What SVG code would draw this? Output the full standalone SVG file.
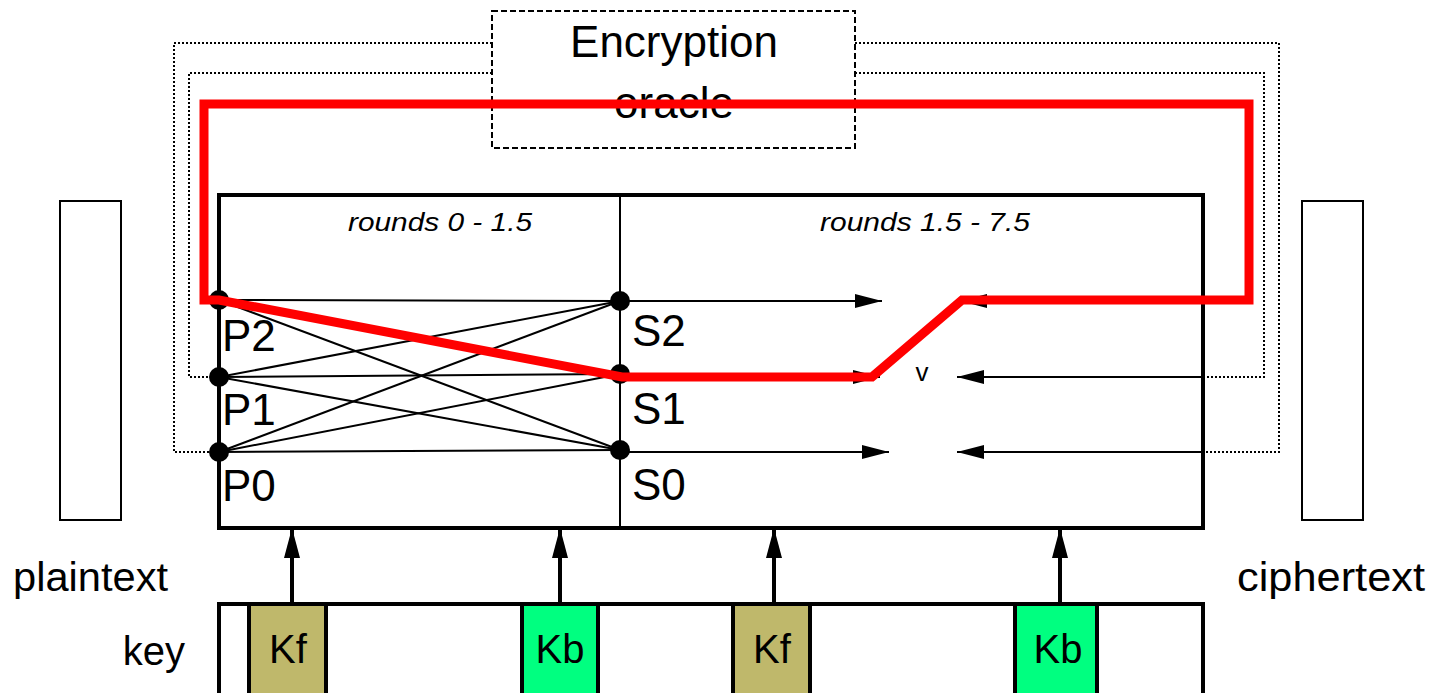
<svg xmlns="http://www.w3.org/2000/svg" width="1433" height="693" viewBox="0 0 1433 693">
<style>
text{font-family:"Liberation Sans",Arial,sans-serif;fill:#000}
.big{font-size:44px}
.lbl{font-size:40px}
.it{font-size:25px;font-style:italic}
.dot{fill:none;stroke:#000;stroke-width:2;stroke-dasharray:2 2}
.thin{fill:none;stroke:#000;stroke-width:2}
.mesh{stroke:#000;stroke-width:2}
.harr{stroke:#000;stroke-width:2;marker-end:url(#ah)}
.karr{stroke:#000;stroke-width:4;marker-end:url(#ak)}
.node{fill:#000}
.kf{fill:#BFB86B;stroke:#000;stroke-width:4}
.kb{fill:#00FF80;stroke:#000;stroke-width:4}
</style>
<defs>
<marker id="ah" markerUnits="userSpaceOnUse" markerWidth="28" markerHeight="14" refX="27" refY="7" orient="auto"><path d="M0,0 L27,7 L0,14 Z" fill="#000"/></marker>
<marker id="ak" markerUnits="userSpaceOnUse" markerWidth="30" markerHeight="18" refX="30" refY="9" orient="auto"><path d="M0,1 L30,9 L0,17 Z" fill="#000"/></marker>
</defs>
<rect width="1433" height="693" fill="#fff"/>
<g id="feedback-loops">
<path class="dot" d="M492,43 H174 V452 H219"/>
<path class="dot" d="M492,73 H189 V377 H219"/>
<path class="dot" d="M855,43 H1279 V452 H1203"/>
<path class="dot" d="M855,73 H1264 V377 H1203"/>
</g>
<g id="oracle">
<rect x="492" y="11" width="363" height="137" fill="#fff" stroke="#000" stroke-width="2" stroke-dasharray="6 3"/>
<text class="big" x="674" y="57" text-anchor="middle">Encryption</text>
<text class="big" x="674" y="118" text-anchor="middle">oracle</text>
</g>
<g id="plaintext">
<rect class="thin" x="60" y="201" width="61" height="319"/>
<text class="lbl" x="13" y="591" textLength="155" lengthAdjust="spacingAndGlyphs">plaintext</text>
</g>
<g id="ciphertext">
<rect class="thin" x="1302" y="201" width="61" height="319"/>
<text class="lbl" x="1237" y="591" textLength="188" lengthAdjust="spacingAndGlyphs">ciphertext</text>
</g>
<g id="cipher">
<rect x="219" y="195" width="984" height="333" fill="#fff" stroke="#000" stroke-width="4"/>
<line class="thin" x1="620" y1="195" x2="620" y2="528"/>
<text class="it" x="348" y="231" textLength="184" lengthAdjust="spacingAndGlyphs">rounds 0 - 1.5</text>
<text class="it" x="820" y="231" textLength="210" lengthAdjust="spacingAndGlyphs">rounds 1.5 - 7.5</text>
<text x="922" y="381" font-size="26" text-anchor="middle">v</text>
</g>
<g id="connectors">
<line class="mesh" x1="219" y1="300" x2="620" y2="301"/>
<line class="mesh" x1="219" y1="300" x2="620" y2="374"/>
<line class="mesh" x1="219" y1="300" x2="620" y2="450"/>
<line class="mesh" x1="219" y1="377" x2="620" y2="301"/>
<line class="mesh" x1="219" y1="377" x2="620" y2="374"/>
<line class="mesh" x1="219" y1="377" x2="620" y2="450"/>
<line class="mesh" x1="219" y1="452" x2="620" y2="301"/>
<line class="mesh" x1="219" y1="452" x2="620" y2="374"/>
<line class="mesh" x1="219" y1="452" x2="620" y2="450"/>
<line class="harr" x1="620" y1="301" x2="882" y2="301"/>
<line class="harr" x1="620" y1="377" x2="880" y2="377"/>
<line class="harr" x1="620" y1="452" x2="889" y2="452"/>
<line class="harr" x1="1203" y1="301" x2="960" y2="301"/>
<line class="harr" x1="1203" y1="377" x2="957" y2="377"/>
<line class="harr" x1="1203" y1="452" x2="957" y2="452"/>
<line class="karr" x1="292" y1="604" x2="292" y2="528"/>
<line class="karr" x1="560" y1="604" x2="560" y2="528"/>
<line class="karr" x1="774" y1="604" x2="774" y2="528"/>
<line class="karr" x1="1060" y1="604" x2="1060" y2="528"/>
</g>
<g id="P2"><circle class="node" cx="219" cy="300" r="10"/><text class="big" x="222" y="351">P2</text></g>
<g id="P1"><circle class="node" cx="219" cy="377" r="10"/><text class="big" x="222" y="425">P1</text></g>
<g id="P0"><circle class="node" cx="219" cy="452" r="10"/><text class="big" x="222" y="501">P0</text></g>
<g id="S2"><circle class="node" cx="620" cy="301" r="10"/><text class="big" x="632" y="346">S2</text></g>
<g id="S1"><circle class="node" cx="620" cy="374" r="10"/><text class="big" x="632" y="424">S1</text></g>
<g id="S0"><circle class="node" cx="620" cy="450" r="10"/><text class="big" x="632" y="500">S0</text></g>
<g id="attack-path">
<path d="M204,300 L219,300 L622,377 L872,377 L962,300 L1249,300 L1249,104 L204,104 Z" fill="none" stroke="#f00" stroke-width="9"/>
</g>
<g id="key">
<path d="M219,700 V604 H1203 V700" fill="none" stroke="#000" stroke-width="4"/>
<text class="lbl" x="185" y="665" text-anchor="end">key</text>
</g>
<g id="Kf1"><rect class="kf" x="249" y="604" width="77" height="100"/><text class="lbl" x="288" y="663" text-anchor="middle">Kf</text></g>
<g id="Kb1"><rect class="kb" x="522" y="604" width="76" height="100"/><text class="lbl" x="560" y="663" text-anchor="middle">Kb</text></g>
<g id="Kf2"><rect class="kf" x="733" y="604" width="77" height="100"/><text class="lbl" x="772" y="663" text-anchor="middle">Kf</text></g>
<g id="Kb2"><rect class="kb" x="1015" y="604" width="82" height="100"/><text class="lbl" x="1058" y="663" text-anchor="middle">Kb</text></g>
</svg>
